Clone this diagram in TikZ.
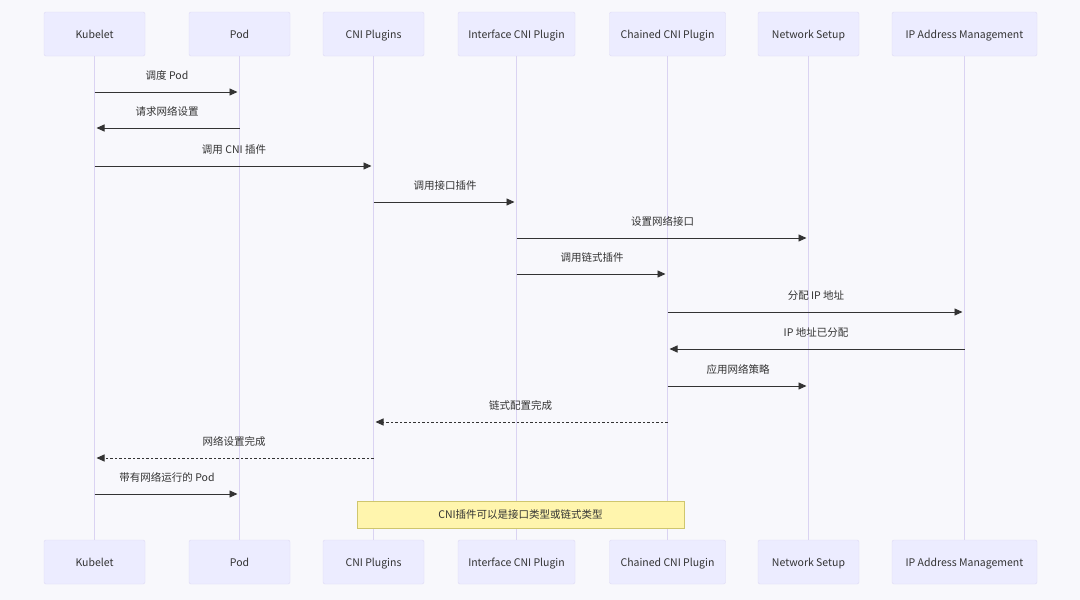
\documentclass[tikz,border=0pt]{standalone}
\usepackage{fontspec}
\setmainfont{Noto Sans CJK SC}
\usetikzlibrary{arrows.meta,calc}
\definecolor{bg}{HTML}{F8F8FC}
\definecolor{actfill}{HTML}{ECECFF}
\definecolor{actdraw}{HTML}{DEDAF5}
\definecolor{life}{HTML}{DAD3F2}
\definecolor{txt}{HTML}{333333}
\definecolor{notefill}{HTML}{FFF5AD}
\definecolor{notedraw}{HTML}{CFC66E}
\tikzset{
  actor/.style={draw=actdraw, fill=actfill, rounded corners=2pt, minimum height=44pt, inner sep=0pt, text height=10.5pt, text depth=1.5pt, text=txt, font=\fontsize{10.5}{12}\selectfont},
  lifeline/.style={draw=life, line width=1.2pt},
  msg/.style={draw=txt, line width=0.9pt, -{Triangle[length=8pt,width=7pt]}, shorten >=2pt},
  reply/.style={msg, dash pattern=on 2.5pt off 2pt},
  lbl/.style={text=txt, font=\fontsize{10.5}{12}\selectfont, inner sep=0pt, text height=8pt, text depth=2.5pt},
  notebox/.style={draw=notedraw, fill=notefill, line width=0.8pt, minimum width=327pt, minimum height=27pt, inner sep=0pt, text height=9.5pt, text depth=1.5pt, text=txt, font=\fontsize{10.5}{12}\selectfont}
}
\begin{document}
\begin{tikzpicture}[x=1pt,y=-1pt]
\fill[bg] (0,0) rectangle (1080,600);
\useasboundingbox (0,0) rectangle (1080,600);
% actors
\foreach \n/\x/\w/\t in {kub/94.5/101/Kubelet, pod/239.5/101/Pod, cni/373.5/101/CNI Plugins, ifc/516.5/117/Interface CNI Plugin, chn/667.5/116/Chained CNI Plugin, net/808.5/101/Network Setup, ipam/964.5/145/IP Address Management}{
  \node[actor, minimum width=\w pt] (\n T) at (\x,34) {\t};
  \node[actor, minimum width=\w pt] (\n B) at (\x,562) {\t};
  \draw[lifeline] (\n T.south) -- (\n B.north);
}
% note
\node[notebox] (note) at (520.5,514.5) {CNI插件可以是接口类型或链式类型};
% messages
\foreach \a/\b/\y/\s/\t in {kub/pod/92/msg/调度 Pod, pod/kub/128/msg/请求网络设置, kub/cni/166/msg/调用 CNI 插件, cni/ifc/202/msg/调用接口插件, ifc/net/238/msg/设置网络接口, ifc/chn/274/msg/调用链式插件, chn/ipam/312/msg/分配 IP 地址, ipam/chn/349/msg/IP 地址已分配, chn/net/386/msg/应用网络策略, chn/cni/422/reply/链式配置完成, cni/kub/458/reply/网络设置完成, kub/pod/494/msg/带有网络运行的 Pod}{
  \coordinate (s\y) at (\a T.south |- 0,\y);
  \coordinate (e\y) at (\b T.south |- 0,\y);
  \draw[\s] (s\y) -- (e\y);
  \node[lbl] (l\y) at ($(s\y)!0.5!(e\y)+(0,-15)$) {\t};
}
\end{tikzpicture}
\end{document}
